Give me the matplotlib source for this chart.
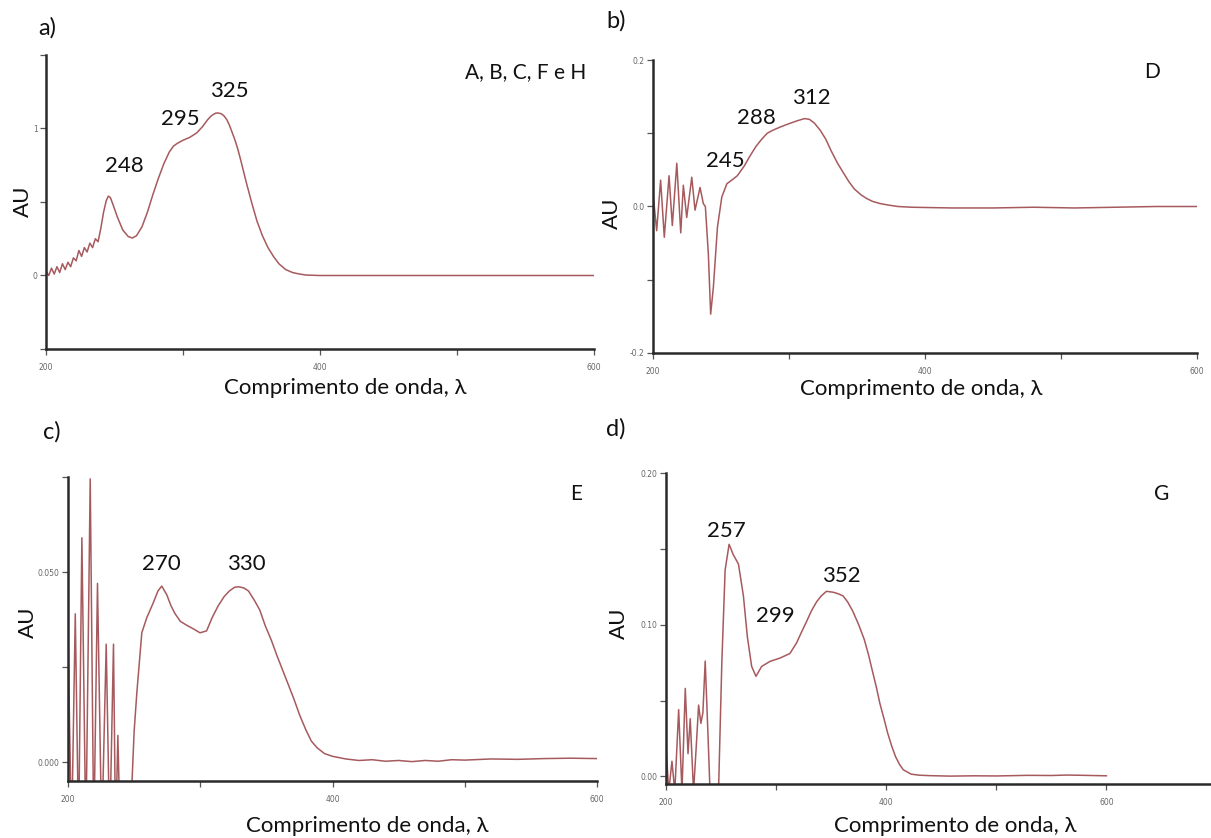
import matplotlib
matplotlib.use("Agg")
import matplotlib.pyplot as plt

# ---------------- data ----------------
# a) A, B, C, F e H
x_a = [200, 202, 204, 206, 208, 210, 212, 214, 216, 218, 220, 222, 224, 226, 228, 230,
       232, 234, 236, 238, 240, 242, 244, 245.5, 247, 249, 252, 256, 260, 263, 266, 270,
       274, 278, 282, 286, 290, 293, 296, 300, 305, 310, 314, 318, 320, 322, 324, 326,
       328, 330, 332, 334, 336, 338, 340, 342, 346, 350, 354, 358, 362, 366, 370, 375,
       380, 385, 390, 400, 450, 500, 550, 600]
y_a = [0.03, 0.00, 0.05, 0.01, 0.06, 0.02, 0.08, 0.04, 0.09, 0.06, 0.12, 0.10, 0.17, 0.13,
       0.19, 0.16, 0.22, 0.19, 0.25, 0.23, 0.32, 0.43, 0.51, 0.54, 0.53, 0.48, 0.40, 0.31,
       0.265, 0.255, 0.27, 0.33, 0.43, 0.55, 0.66, 0.76, 0.84, 0.88, 0.90, 0.92, 0.94,
       0.97, 1.01, 1.06, 1.08, 1.095, 1.105, 1.105, 1.10, 1.085, 1.06, 1.02, 0.97, 0.92,
       0.86, 0.79, 0.64, 0.50, 0.37, 0.27, 0.19, 0.13, 0.08, 0.04, 0.02, 0.01, 0.003, 0.0,
       0.0, 0.0, 0.0, 0.0]
peaks_a = ["248", "295", "325"]

# b) D
x_b = [200, 202.7, 205.6, 208.3, 211.8, 214.2, 217.5, 220.4, 222.3, 224.8, 228.5, 230.9,
       234.6, 237, 238.5, 240.7, 242.4, 244.4, 247.4, 250.6, 254.3, 258.6, 262, 267, 271,
       275.7, 280, 284, 288, 292.9, 297, 301.4, 306, 311.4, 315, 318.6, 323, 327, 331,
       335.7, 340, 344, 348, 352.9, 357, 361.4, 367, 372.9, 380, 390, 420, 450, 480, 510,
       540, 570, 600]
y_b = [0.018, -0.033, 0.036, -0.042, 0.042, -0.026, 0.059, -0.036, 0.029, -0.015, 0.040,
       -0.005, 0.026, 0.004, 0.0, -0.065, -0.147, -0.11, -0.028, 0.013, 0.031, 0.037,
       0.042, 0.055, 0.068, 0.082, 0.092, 0.100, 0.104, 0.108, 0.111, 0.114, 0.117, 0.120,
       0.119, 0.114, 0.104, 0.092, 0.076, 0.059, 0.046, 0.034, 0.024, 0.016, 0.011, 0.007,
       0.004, 0.002, 0.000, -0.001, -0.002, -0.002, -0.001, -0.002, -0.001, 0.0, 0.0]
peaks_b = ["245", "288", "312"]

# c) E
x_c = [200, 202.7, 205.5, 208, 210.5, 213.5, 216.8, 219.5, 222.3, 225.5, 228.9, 231.5,
       234.4, 236, 237.7, 239.5, 244, 248.3, 250, 252, 255.8, 259.6, 264.6, 268, 270.9,
       274.7, 278, 281, 285, 289.7, 295, 299.8, 304.8, 309, 313.4, 318, 322, 326, 329.3,
       333, 336.5, 341, 345, 349, 353.8, 358, 362.5, 367, 371, 375, 379.8, 384, 388.5,
       394, 400, 410, 420, 430, 440, 450, 460, 470, 480, 490, 500, 520, 540, 560, 580, 600]
y_c = [0.033, -0.02, 0.039, -0.02, 0.059, -0.02, 0.0745, -0.02, 0.047, -0.02, 0.031, -0.02,
       0.031, -0.02, 0.007, -0.02, -0.03, -0.006, 0.008, 0.018, 0.034, 0.038, 0.042, 0.045,
       0.0463, 0.044, 0.041, 0.039, 0.037, 0.036, 0.035, 0.034, 0.0345, 0.038, 0.041,
       0.0435, 0.045, 0.046, 0.0461, 0.0458, 0.045, 0.0425, 0.040, 0.036, 0.032, 0.028,
       0.024, 0.020, 0.0164, 0.0125, 0.0085, 0.0055, 0.0037, 0.0022, 0.0015, 0.0008,
       0.0004, 0.0006, 0.0002, 0.0004, 0.0001, 0.0004, 0.0002, 0.0006, 0.0005, 0.0008,
       0.0007, 0.0009, 0.0010, 0.0009]
peaks_c = ["270", "330"]

# d) G
x_d = [200, 202.5, 205.4, 208, 211.5, 214.5, 217.5, 220, 222, 225, 227.5, 229.6, 231.7,
       233.5, 235.6, 238, 240, 244, 247.7, 250.7, 253.7, 257.3, 261.2, 265.8, 270.3, 273.9,
       277.8, 281.7, 286.9, 294.4, 303.5, 312.5, 318.6, 323, 327.6, 332, 336.7, 341, 345.7,
       351.9, 356, 360.8, 365, 369.6, 375, 380.2, 384, 387.3, 391, 394.3, 398, 401.4, 405,
       408.5, 412, 415.5, 422.6, 430, 440, 458, 480, 500, 528.6, 550, 564, 580, 600]
y_d = [0.020, -0.01, 0.010, -0.01, 0.044, -0.01, 0.058, 0.015, 0.038, -0.01, 0.020, 0.047,
       0.035, 0.042, 0.076, 0.03, -0.01, -0.01, -0.01, 0.075, 0.136, 0.153, 0.146, 0.140,
       0.119, 0.092, 0.0725, 0.066, 0.0725, 0.0758, 0.078, 0.081, 0.088, 0.095, 0.102,
       0.109, 0.115, 0.119, 0.122, 0.1214, 0.1205, 0.119, 0.115, 0.109, 0.100, 0.090,
       0.080, 0.070, 0.059, 0.048, 0.038, 0.0284, 0.020, 0.013, 0.008, 0.0044, 0.0015,
       0.0008, 0.0005, 0.0002, 0.0004, 0.0003, 0.0007, 0.0006, 0.0009, 0.0007, 0.0004]
peaks_d = ["257", "299", "352"]

panel_letters = ["a)", "b)", "c)", "d)"]
compounds = ["A, B, C, F e H", "D", "E", "G"]
xlabel = "Comprimento de onda, \u03bb"
ylabel = "AU"

# ---------------- figure ----------------
W, H = 1211, 838
fig = plt.figure(figsize=(W / 100, H / 100), dpi=100)
FONT = ["Lato", "DejaVu Sans"]
LINE = "#a65a5e"


def px(x0, y0, x1, y1):
    return [x0 / W, 1 - y1 / H, (x1 - x0) / W, (y1 - y0) / H]


def fx(x, y, s, size=16, **kw):
    fig.text(x / W, 1 - y / H, s, fontsize=size, family=FONT, ha="center",
             va="center", color="#111", **kw)


def style(ax, xlim, ylim, yt, ytl, yminor):
    ax.set_xlim(*xlim)
    ax.set_ylim(*ylim)
    for s in ("top", "right"):
        ax.spines[s].set_visible(False)
    for s in ("left", "bottom"):
        ax.spines[s].set_linewidth(1.8)
        ax.spines[s].set_color("#2a2a2a")
    ax.set_xticks([200, 400, 600])
    ax.set_xticklabels(["200", "400", "600"])
    ax.set_xticks([300, 500], minor=True)
    ax.set_yticks(yt)
    ax.set_yticklabels(ytl)
    ax.set_yticks(yminor, minor=True)
    ax.tick_params(which="both", direction="out", length=4, width=0.9,
                   color="#555", labelsize=5.5, labelcolor="#666", pad=2)
    ax.tick_params(axis="x", which="major", pad=6)


axa = fig.add_axes(px(46, 55, 594, 349))
axa.plot(x_a, y_a, color=LINE, lw=1.1)
style(axa, (200, 600), (-0.5, 1.5), [0, 1], ["0", "1"], [-0.5, 0.5, 1.5])

axb = fig.add_axes(px(653, 60, 1197, 353))
axb.plot(x_b, y_b, color=LINE, lw=1.1)
style(axb, (200, 600), (-0.2, 0.2), [-0.2, 0.0, 0.2], ["-0.2", "0.0", "0.2"], [-0.1, 0.1])

axc = fig.add_axes(px(68, 477, 597, 781))
axc.plot(x_c, y_c, color=LINE, lw=1.1)
style(axc, (200, 600), (-0.005, 0.075), [0.0, 0.05], ["0.000", "0.050"], [0.025, 0.075])

axd = fig.add_axes(px(666, 473, 1211, 784))
axd.plot(x_d, y_d, color=LINE, lw=1.1)
style(axd, (200, 695), (-0.005, 0.20), [0.0, 0.1, 0.2], ["0.00", "0.10", "0.20"], [0.05, 0.15])

# panel letters
fx(47, 28, panel_letters[0], size=17)
fx(616, 21, panel_letters[1], size=17)
fx(52, 432, panel_letters[2], size=17)
fx(616, 429, panel_letters[3], size=17)

# compound labels
fig.text(586 / W, 1 - 72 / H, compounds[0], fontsize=15, family=FONT, ha="right",
         va="center", color="#111")
fx(1152, 72, compounds[1], size=15)
fx(576, 494, compounds[2], size=15)
fx(1162, 494, compounds[3], size=15)

# peak labels
fx(124, 166, peaks_a[0]); fx(180, 119, peaks_a[1]); fx(229, 91, peaks_a[2])
fx(725, 161, peaks_b[0]); fx(756, 118, peaks_b[1]); fx(811, 98, peaks_b[2])
fx(161, 564, peaks_c[0]); fx(246, 564, peaks_c[1])
fx(726, 531, peaks_d[0]); fx(775, 616, peaks_d[1]); fx(841, 576, peaks_d[2])

# axis labels
fx(345, 388, xlabel)
fx(921, 389, xlabel)
fx(367, 826, xlabel)
fx(955, 826, xlabel)
fx(23, 201, ylabel, rotation=90)
fx(612, 213, ylabel, rotation=90)
fx(28, 622, ylabel, rotation=90)
fx(619, 623, ylabel, rotation=90)

fig.savefig("out.png", dpi=100)
